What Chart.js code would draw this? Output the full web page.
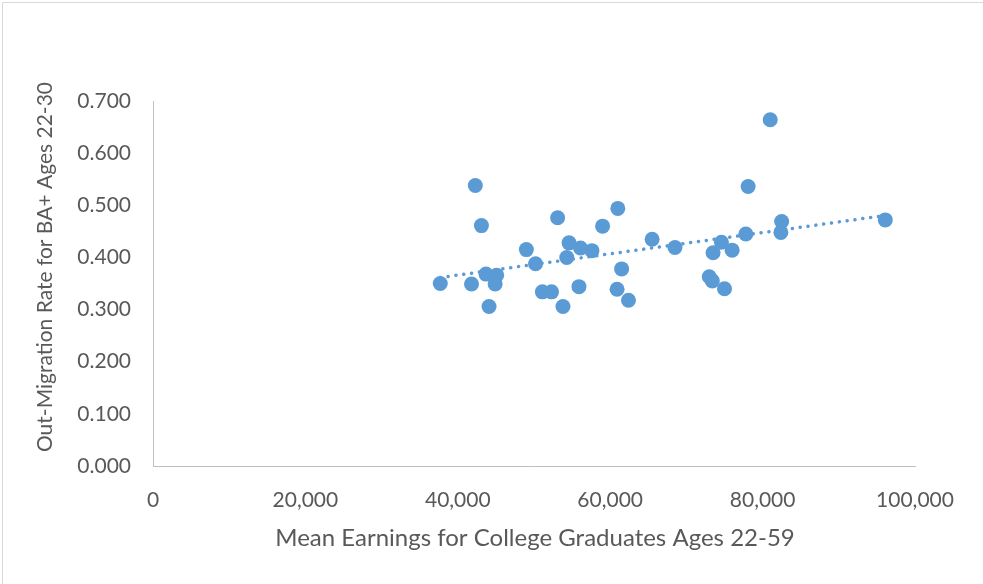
<!DOCTYPE html>
<html>
<head>
<meta charset="utf-8">
<script src="https://cdn.jsdelivr.net/npm/chart.js@4.4.1/dist/chart.umd.min.js"></script>
<style>
  html, body { margin: 0; padding: 0; background: #fff; }
  #wrap { width: 983px; height: 584px; }
</style>
</head>
<body>
<div id="wrap"><canvas id="chart" width="983" height="584"></canvas></div>
<script>
// mean earnings for college grads 22-59 (x) and out-migration rate BA+ 22-30 (y)
const earnings = [37700, 41800, 42300, 43100, 43700, 45100, 44900, 44100, 49000, 50200,
    51100, 52300, 53100, 53800, 54300, 54600, 55900, 56100, 57600, 59000,
    61000, 60900, 61500, 62400, 65500, 68500, 73000, 73400, 73500, 74600,
    75000, 76000, 77800, 78100, 81000, 82400, 82500, 96100];
const outMigration = [0.350, 0.349, 0.538, 0.461, 0.368, 0.366, 0.349, 0.306, 0.415, 0.388,
    0.334, 0.334, 0.476, 0.306, 0.400, 0.428, 0.344, 0.418, 0.413, 0.460,
    0.494, 0.339, 0.378, 0.318, 0.435, 0.419, 0.363, 0.355, 0.409, 0.429,
    0.340, 0.414, 0.445, 0.536, 0.664, 0.448, 0.469, 0.472];
const xTitle = "Mean Earnings for College Graduates Ages 22-59";
const yTitle = "Out-Migration Rate for BA+ Ages 22-30";

const FONT = "Lato";
const TEXT = "#595959";
const BLUE = "#5B9BD5";

const points = earnings.map((e, i) => ({ x: e, y: outMigration[i] }));

// linear trendline (least squares), like the Excel one
function trend() {
    const n = earnings.length;
    let sx = 0, sy = 0, sxy = 0, sxx = 0;
    for (let i = 0; i < n; i++) {
        sx += earnings[i]; sy += outMigration[i];
        sxy += earnings[i] * outMigration[i]; sxx += earnings[i] * earnings[i];
    }
    const b = (n * sxy - sx * sy) / (n * sxx - sx * sx);
    const a = (sy - b * sx) / n;
    const lo = Math.min(...earnings), hi = Math.max(...earnings);
    return [{ x: lo, y: a + b * lo }, { x: hi, y: a + b * hi }];
}

// white background, outer frame and axis titles
const decor = {
    id: "decor",
    beforeDraw(chart) {
        const ctx = chart.ctx;
        ctx.save();
        ctx.fillStyle = "#fff";
        ctx.fillRect(0, 0, chart.width, chart.height);
        ctx.strokeStyle = "#d9d9d9";
        ctx.lineWidth = 1;
        ctx.beginPath();
        ctx.moveTo(2.5, chart.height);
        ctx.lineTo(2.5, 2.5);
        ctx.lineTo(chart.width, 2.5);
        ctx.stroke();
        ctx.restore();
    },
    afterDraw(chart) {
        const ctx = chart.ctx;
        ctx.save();
        ctx.fillStyle = TEXT;
        ctx.textAlign = "center";
        ctx.textBaseline = "middle";
        ctx.font = "24px " + FONT;
        ctx.fillText(xTitle, 535, 538);
        ctx.font = "21px " + FONT;
        ctx.translate(45, 267);
        ctx.rotate(-Math.PI / 2);
        ctx.fillText(yTitle, 0, 0);
        ctx.restore();
    }
};

new Chart(document.getElementById("chart"), {
    type: "scatter",
    data: {
        datasets: [
            {
                label: "Out-Migration",
                data: points,
                backgroundColor: BLUE,
                borderColor: BLUE,
                pointRadius: 7.5,
                pointHoverRadius: 7.5,
                borderWidth: 0
            },
            {
                label: "Linear trend",
                data: trend(),
                showLine: true,
                pointRadius: 0,
                borderColor: BLUE,
                borderWidth: 3.5,
                borderDash: [0.1, 7.8],
                borderCapStyle: "round"
            }
        ]
    },
    options: {
        responsive: false,
        animation: false,
        layout: { padding: { top: 101, right: 68, left: 0, bottom: 0 } },
        plugins: {
            legend: { display: false },
            tooltip: { enabled: false }
        },
        scales: {
            x: {
                type: "linear",
                min: 0,
                max: 100000,
                grid: { display: false, drawTicks: false },
                border: { display: true, color: "#bfbfbf", width: 1 },
                ticks: {
                    stepSize: 20000,
                    padding: 22,
                    color: TEXT,
                    font: { family: FONT, size: 21 },
                    maxRotation: 0,
                    callback: (v) => v.toLocaleString("en-US")
                },
                afterFit: (s) => { s.height = 118; }
            },
            y: {
                type: "linear",
                min: 0,
                max: 0.7,
                grid: { display: false, drawTicks: false },
                border: { display: true, color: "#bfbfbf", width: 1 },
                ticks: {
                    stepSize: 0.1,
                    padding: 22,
                    color: TEXT,
                    font: { family: FONT, size: 21 },
                    callback: (v) => v.toFixed(3)
                },
                afterFit: (s) => { s.width = 153; }
            }
        }
    },
    plugins: [decor]
});
</script>
</body>
</html>
